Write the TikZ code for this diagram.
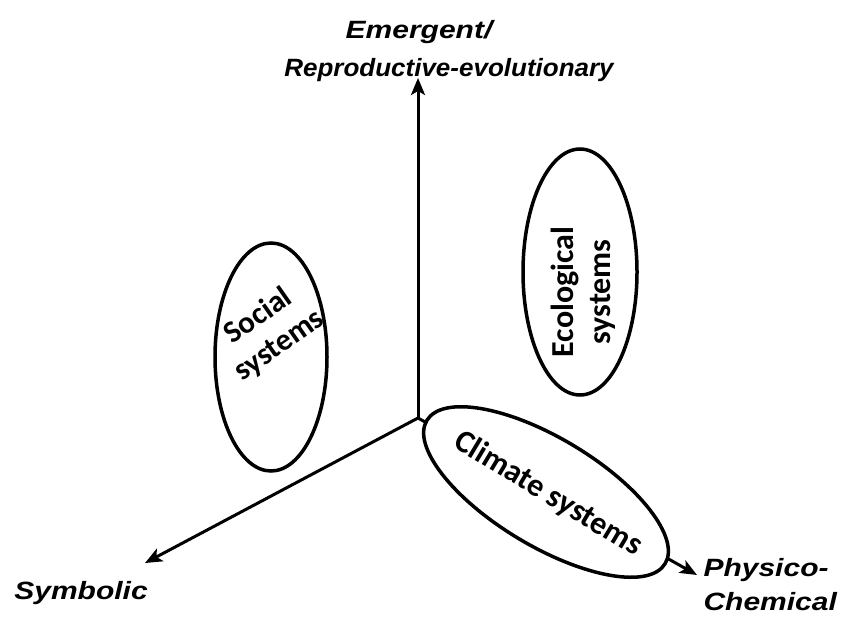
\documentclass[tikz,border=0pt]{standalone}
\usepackage{fontspec}
\setmainfont{Liberation Sans}
\newfontfamily\lblfont{Liberation Sans}[FakeStretch=1.2]
\newfontfamily\lblnarrow{Liberation Sans}[FakeStretch=1.04]
\newfontfamily\calfont{Carlito}
\usetikzlibrary{arrows.meta,shapes.geometric}

\begin{document}
\begin{tikzpicture}[x=1pt,y=-1pt,
	axis/.style={line width=3pt,-{Stealth[length=17pt,width=14pt,inset=4pt]}},
	axislabel/.style={font=\fontsize{25}{34}\selectfont\lblfont\bfseries\itshape},
	blob/.style={draw,ellipse,line width=3.5pt,inner sep=0pt},
	blobtext/.style={font=\fontsize{32}{37}\selectfont\calfont\bfseries,align=center}]
	\useasboundingbox (0,0) rectangle (848,618);

	% Axes
	\coordinate (o) at (418,418);
	\coordinate (up) at (418,78);
	\coordinate (sym) at (145,563);
	\coordinate (phys) at (697,575);
	\draw[axis] (o) -- (up);
	\draw[axis] (o) -- (sym);
	\draw[axis] (o) -- (phys);

	% Axis labels
	\node[axislabel] (emerg) at (419,32) {Emergent/};
	\node[axislabel,font=\fontsize{25}{30}\selectfont\lblnarrow\bfseries\itshape] (repro) at (449,70) {Reproductive-evolutionary};
	\node[axislabel] (symb) at (81,593) {Symbolic};
	\node[axislabel,align=left,anchor=west] (physlbl) at (700,585) {Physico-\\Chemical};

	% Systems
	\node[blob,minimum width=112,minimum height=228] (social) at (271,357) {};
	\node[blobtext,rotate=35,font=\fontsize{31}{36}\selectfont\calfont\bfseries] (socialtxt) at (269,331) {Social\\systems};

	\node[blob,minimum width=114,minimum height=246] (eco) at (580,272) {};
	\node[blobtext,rotate=90] (ecotxt) at (583,292) {Ecological\\systems};

	\node[blob,rotate=-31,minimum width=278,minimum height=108,fill=white] (climate) at (546,492) {};
	\node[blobtext,rotate=-31] (climatetxt) at (548,494) {Climate systems};
\end{tikzpicture}
\end{document}
